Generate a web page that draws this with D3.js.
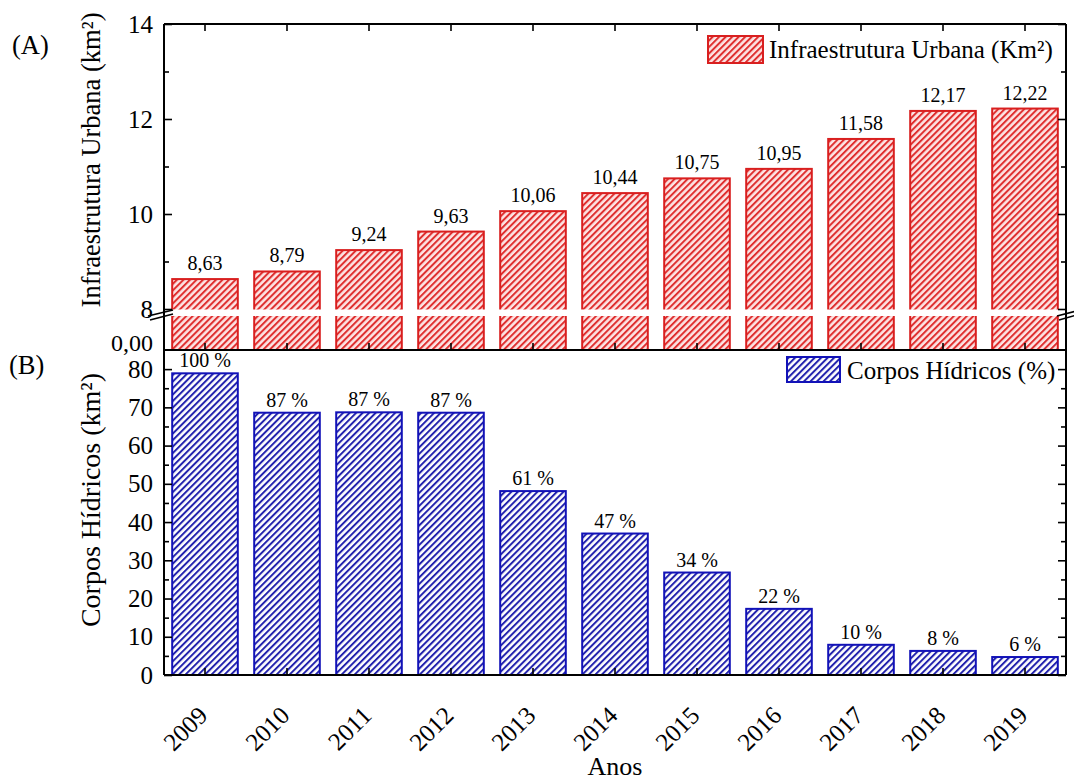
<!DOCTYPE html>
<html>
<head>
<meta charset="utf-8">
<script src="https://cdnjs.cloudflare.com/ajax/libs/d3/7.8.5/d3.min.js"></script>
<style>
  html, body { margin: 0; padding: 0; background: #fff; }
  svg { display: block; }
  text { font-family: "Liberation Serif", "Times New Roman", serif; fill: #000; }
</style>
</head>
<body>
<svg id="chart" width="1074" height="783"></svg>
<script>
// ---- data ----
const years = ["2009","2010","2011","2012","2013","2014","2015","2016","2017","2018","2019"];
const urbana = [8.63, 8.79, 9.24, 9.63, 10.06, 10.44, 10.75, 10.95, 11.58, 12.17, 12.22];
const urbanaLabels = ["8,63","8,79","9,24","9,63","10,06","10,44","10,75","10,95","11,58","12,17","12,22"];
const hidricos = [78.9, 68.6, 68.7, 68.6, 48.1, 37.0, 26.8, 17.3, 7.9, 6.3, 4.7];
const hidricosLabels = ["100 %","87 %","87 %","87 %","61 %","47 %","34 %","22 %","10 %","8 %","6 %"];
const topTicks = [8, 10, 12, 14];
const topMinor = [9, 11, 13];
const botTicks = [0, 10, 20, 30, 40, 50, 60, 70, 80];
const botMinor = [5, 15, 25, 35, 45, 55, 65, 75];

const svg = d3.select("#chart");
const L = 164, R = 1066;
const T1 = 24, B1 = 350, T2 = 350, B2 = 675;
const gapTop = 309, gapBot = 316;

const red = "#d91f1f", redLine = "#df2f2f", redBg = "#fde4e4";
const blue = "#1212b8", blueLine = "#2222ad", blueBg = "#ffffff";

// patterns
const defs = svg.append("defs");
function hatch(id, bg, col) {
  const p = defs.append("pattern").attr("id", id).attr("patternUnits", "userSpaceOnUse")
    .attr("width", 4.6).attr("height", 10).attr("patternTransform", "rotate(45)");
  p.append("rect").attr("width", 4.6).attr("height", 10).attr("fill", bg);
  p.append("line").attr("x1", 1).attr("x2", 1).attr("y1", 0).attr("y2", 10)
    .attr("stroke", col).attr("stroke-width", 2);
}
hatch("hr", redBg, redLine);
hatch("hb", blueBg, blueLine);

const x = d3.scaleBand().domain(years).range([L, R]).paddingInner(0.2).paddingOuter(0.1);
const yTop = d3.scaleLinear().domain([8, 14]).range([gapTop, T1]);
const yBot = d3.scaleLinear().domain([0, 85]).range([B2, T2]);

// ---- top bars ----
svg.append("g").selectAll("rect").data(urbana).join("rect")
  .attr("x", (d, i) => x(years[i]))
  .attr("y", d => yTop(d))
  .attr("width", x.bandwidth())
  .attr("height", d => B1 - yTop(d))
  .attr("fill", "url(#hr)")
  .attr("stroke", red).attr("stroke-width", 2);

// break gap
svg.append("rect").attr("x", L + 1).attr("y", gapTop + 0.5).attr("width", R - L - 2).attr("height", gapBot - gapTop - 0.5).attr("fill", "#fff");

svg.append("g").selectAll("text").data(urbana).join("text")
  .attr("x", (d, i) => x(years[i]) + x.bandwidth() / 2)
  .attr("y", d => yTop(d) - 9)
  .attr("text-anchor", "middle").attr("font-size", 20)
  .text((d, i) => urbanaLabels[i]);

// ---- bottom bars ----
svg.append("g").selectAll("rect").data(hidricos).join("rect")
  .attr("x", (d, i) => x(years[i]))
  .attr("y", d => yBot(d))
  .attr("width", x.bandwidth())
  .attr("height", d => B2 - yBot(d))
  .attr("fill", "url(#hb)")
  .attr("stroke", blue).attr("stroke-width", 2);

svg.append("g").selectAll("text").data(hidricos).join("text")
  .attr("x", (d, i) => x(years[i]) + x.bandwidth() / 2)
  .attr("y", d => yBot(d) - 6)
  .attr("text-anchor", "middle").attr("font-size", 20)
  .text((d, i) => hidricosLabels[i]);

// ---- axes ----
function styleAxis(g) {
  g.selectAll("path.domain").remove();
  g.selectAll("line").attr("stroke", "#000").attr("stroke-width", 1.6);
  g.selectAll("text").attr("font-size", 25).style("font-family", "'Liberation Serif', serif");
}
// top left
svg.append("g").attr("transform", `translate(${L},0)`)
  .call(d3.axisLeft(yTop).tickValues(topTicks).tickSize(-8).tickPadding(11).tickFormat(d3.format("d")))
  .call(styleAxis);
svg.append("g").attr("transform", `translate(${L},0)`)
  .call(d3.axisLeft(yTop).tickValues(topMinor).tickSize(-5).tickFormat(""))
  .call(styleAxis);
// top right
svg.append("g").attr("transform", `translate(${R},0)`)
  .call(d3.axisRight(yTop).tickValues(topTicks).tickSize(-8).tickFormat(""))
  .call(styleAxis);
svg.append("g").attr("transform", `translate(${R},0)`)
  .call(d3.axisRight(yTop).tickValues(topMinor).tickSize(-5).tickFormat(""))
  .call(styleAxis);
// "0,00" label at panel base
svg.append("text").attr("x", L - 11).attr("y", B1 + 1).attr("text-anchor", "end").attr("font-size", 24).text("0,00");

// bottom left
svg.append("g").attr("transform", `translate(${L},0)`)
  .call(d3.axisLeft(yBot).tickValues(botTicks).tickSize(-8).tickPadding(11).tickFormat(d3.format("d")))
  .call(styleAxis);
svg.append("g").attr("transform", `translate(${L},0)`)
  .call(d3.axisLeft(yBot).tickValues(botMinor).tickSize(-5).tickFormat(""))
  .call(styleAxis);
svg.append("g").attr("transform", `translate(${R},0)`)
  .call(d3.axisRight(yBot).tickValues(botTicks).tickSize(-8).tickFormat(""))
  .call(styleAxis);
svg.append("g").attr("transform", `translate(${R},0)`)
  .call(d3.axisRight(yBot).tickValues(botMinor).tickSize(-5).tickFormat(""))
  .call(styleAxis);

// x ticks (at bar centres)
svg.append("g").attr("transform", `translate(0,${T1})`)
  .call(d3.axisTop(x).tickSize(-7).tickFormat(""))
  .call(styleAxis);
svg.append("g").attr("transform", `translate(0,${B1})`)
  .call(d3.axisBottom(x).tickSize(-7).tickFormat(""))
  .call(styleAxis);
const xb = svg.append("g").attr("transform", `translate(0,${B2})`)
  .call(d3.axisBottom(x).tickSize(-7).tickPadding(0))
  .call(styleAxis);
xb.selectAll("text")
  .attr("text-anchor", "end")
  .attr("dy", 0)
  .attr("font-size", 25)
  .attr("transform", "translate(4,42) rotate(-45)")
  .attr("y", 0).attr("x", 0);

// frame lines
const frame = svg.append("g").attr("stroke", "#000").attr("stroke-width", 2).attr("fill", "none");
frame.append("line").attr("x1", L).attr("x2", R).attr("y1", T1).attr("y2", T1);
frame.append("line").attr("x1", L).attr("x2", R).attr("y1", B1).attr("y2", B1);
frame.append("line").attr("x1", L).attr("x2", R).attr("y1", B2).attr("y2", B2);
frame.append("line").attr("x1", L).attr("x2", L).attr("y1", T1).attr("y2", B2);
frame.append("line").attr("x1", R).attr("x2", R).attr("y1", T1).attr("y2", B2);

// break marks
const brk = svg.append("g").attr("stroke", "#000").attr("stroke-width", 1.6);
[[L - 16, L + 9], [R - 9, R + 14]].forEach(([a, b]) => {
  brk.append("line").attr("x1", a).attr("y1", gapTop + 7).attr("x2", b).attr("y2", gapTop + 1);
  brk.append("line").attr("x1", a + 2).attr("y1", gapTop + 11).attr("x2", b).attr("y2", gapTop + 5);
});

// axis titles
svg.append("text").attr("transform", `translate(100,160) rotate(-90)`)
  .attr("text-anchor", "middle").attr("font-size", 26.5)
  .text("Infraestrutura Urbana (km²)");
svg.append("text").attr("transform", `translate(100,500) rotate(-90)`)
  .attr("text-anchor", "middle").attr("font-size", 28)
  .text("Corpos Hídricos (km²)");
svg.append("text").attr("x", 615).attr("y", 775).attr("text-anchor", "middle").attr("font-size", 26).text("Anos");

// panel labels
svg.append("text").attr("x", 12).attr("y", 54).attr("font-size", 26.5).text("(A)");
svg.append("text").attr("x", 9).attr("y", 374).attr("font-size", 26.5).text("(B)");

// legends
svg.append("rect").attr("x", 708).attr("y", 36).attr("width", 55).attr("height", 27)
  .attr("fill", "url(#hr)").attr("stroke", red).attr("stroke-width", 2);
svg.append("text").attr("x", 769).attr("y", 58).attr("font-size", 25).text("Infraestrutura Urbana (Km²)");
svg.append("rect").attr("x", 787).attr("y", 357).attr("width", 53).attr("height", 25)
  .attr("fill", "url(#hb)").attr("stroke", blue).attr("stroke-width", 2);
svg.append("text").attr("x", 847).attr("y", 379).attr("font-size", 25).text("Corpos Hídricos (%)");
</script>
</body>
</html>
